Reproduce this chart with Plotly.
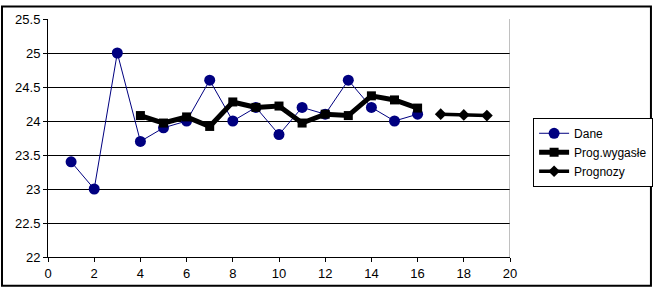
import plotly.graph_objects as go

x_dane = list(range(1, 17))
dane = [23.4, 23.0, 25.0, 23.7, 23.9, 24.0, 24.6, 24.0, 24.2, 23.8, 24.2, 24.1, 24.6, 24.2, 24.0, 24.1]
x_wyg = list(range(4, 17))
wygasle = [24.08, 23.97, 24.06, 23.92, 24.28, 24.2, 24.22, 23.97, 24.1, 24.08, 24.37, 24.31, 24.19]
x_prog = [17, 18, 19]
prognozy = [24.1, 24.09, 24.08]

W, H = 665, 293
ml, mr, mt, mb = 48, 145, 14, 31
pw, ph = W - ml - mr, H - mt - mb

fig = go.Figure()
fig.add_trace(go.Scatter(x=x_dane, y=dane, name="Dane", mode="lines+markers",
                         line=dict(color="#000080", width=1),
                         marker=dict(symbol="circle", size=11, color="#000080")))
fig.add_trace(go.Scatter(x=x_wyg, y=wygasle, name="Prog.wygasłe", mode="lines+markers",
                         line=dict(color="black", width=5),
                         marker=dict(symbol="square", size=9, color="black")))
fig.add_trace(go.Scatter(x=x_prog, y=prognozy, name="Prognozy", mode="lines+markers",
                         line=dict(color="black", width=3.5),
                         marker=dict(symbol="diamond", size=9, color="black")))

fig.update_layout(
    width=W, height=H,
    margin=dict(l=ml, r=mr, t=mt, b=mb),
    paper_bgcolor="white", plot_bgcolor="white",
    font=dict(family="Liberation Sans, Arial, sans-serif", size=13, color="black"),
    showlegend=True,
    legend=dict(x=1.05, y=0.585, xanchor="left", yanchor="top",
                bordercolor="black", borderwidth=1, bgcolor="white",
                font=dict(size=12), tracegroupgap=0, itemwidth=30),
    xaxis=dict(range=[0, 20], tickmode="linear", tick0=0, dtick=2,
               showgrid=False, zeroline=False, showline=True, linecolor="black", linewidth=1,
               ticks="outside", ticklen=4, tickcolor="black", fixedrange=True),
    yaxis=dict(range=[22, 25.5], tickmode="linear", tick0=22, dtick=0.5,
               showgrid=True, gridcolor="black", gridwidth=1, zeroline=False,
               showline=True, linecolor="black", linewidth=1,
               ticks="outside", ticklen=4, tickcolor="black", fixedrange=True),
    shapes=[
        dict(type="line", xref="x", yref="paper", x0=20, x1=20, y0=0, y1=1,
             line=dict(color="#808080", width=1)),
        dict(type="rect", xref="paper", yref="paper",
             x0=-(ml - 1) / pw, x1=(W - ml - 1) / pw,
             y0=-(mb - 1) / ph, y1=(H - mb - 1) / ph,
             line=dict(color="black", width=2), layer="above"),
    ],
)

fig.write_html("out.html", config={"displayModeBar": False})
